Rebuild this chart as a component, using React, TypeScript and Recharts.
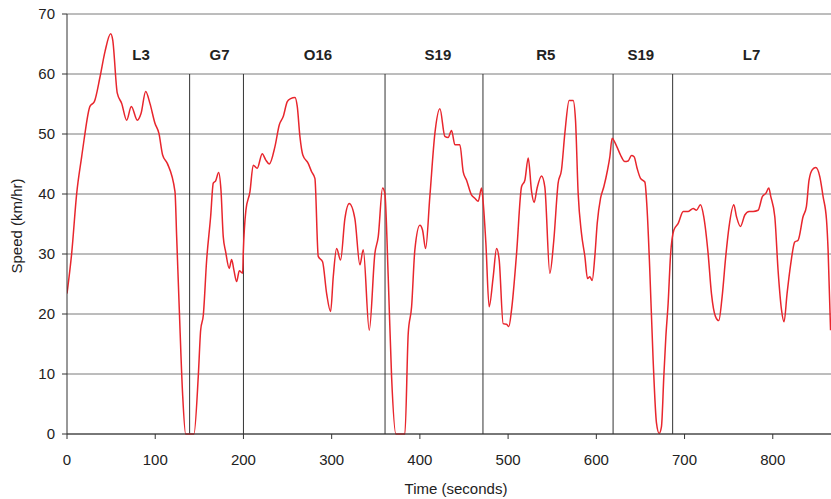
import React from "react";
import { LineChart, Line, XAxis, YAxis, CartesianGrid, ReferenceLine, ReferenceDot } from "recharts";

const timeSec = [0, 5.3, 11, 16.6, 19.3, 26, 31, 37.4, 43, 49.5, 51.8, 57, 62, 67.6, 72.9, 79.7, 83.9, 89.2, 94, 99.7, 104.2, 108.4, 113.7, 122.4, 124.3, 127.3, 131, 134.5, 143.9, 148.8, 151.5, 154.5, 158.3, 162.8, 165.8, 168.5, 171.9, 174.5, 177.1, 179.8, 183.9, 186.6, 189.2, 192.3, 195.3, 199.1, 199.8, 202.8, 207.4, 211.1, 215.6, 221.3, 225.2, 229.3, 235.7, 240.6, 245.1, 249.7, 253.5, 258.4, 261, 264, 267.3, 273.4, 277.3, 281, 284.8, 289.7, 294.3, 298.8, 301.8, 305.6, 310.1, 315, 319.9, 326.3, 332, 335.8, 342.6, 349, 352.8, 357.7, 360.3, 364.1, 367.9, 372.8, 383, 386.8, 390.6, 394.3, 400, 403, 406.5, 411.3, 417, 422.7, 428.3, 432, 435.9, 439.7, 445.3, 449.1, 452.9, 458.6, 462.3, 466.1, 469.9, 471.7, 474.8, 478.5, 483.1, 486.9, 489.9, 494.4, 498.2, 500.8, 503.9, 509.6, 515.2, 519, 522.8, 526.6, 529.5, 532.9, 537.9, 541.6, 547.3, 551.8, 556.7, 560.5, 564.3, 569.2, 573.7, 576.4, 579.4, 583.2, 587, 590, 592.6, 595.3, 598.3, 601, 604.8, 608.5, 612.7, 615.3, 617.9, 621, 624.7, 627.4, 632.3, 636, 639.9, 642.8, 646.2, 650.1, 655, 657.6, 660.6, 664.4, 668.2, 671.2, 673.8, 676.5, 678.8, 681.4, 684.1, 687.9, 692.8, 698.5, 704.2, 709.8, 713.5, 718, 721.8, 726.7, 730.5, 735, 738.8, 742.6, 746.7, 750.5, 755.8, 758.9, 763.4, 768.3, 773.2, 777.7, 783.4, 788.3, 792.1, 795.5, 797.7, 802.3, 806, 809.9, 812.8, 816.2, 820.4, 824.9, 828.7, 834.3, 838.1, 841.1, 845, 848.7, 853.3, 857, 860.9, 862.7, 865.5];

const speedKmh = [23.4, 30.1, 40.1, 46.2, 49, 54.6, 55.4, 59.5, 63.7, 66.7, 65.7, 56.8, 55.1, 52.3, 54.6, 52.3, 53.4, 57.1, 55.1, 51.8, 50.1, 46.5, 45.1, 40.4, 32.9, 20.7, 6.8, 0, 0, 9.6, 17.3, 19.8, 29, 36.2, 41.8, 42.2, 43.6, 40.7, 32.9, 30.4, 27.6, 29.1, 27.3, 25.4, 27.2, 26.8, 30.1, 37.3, 40.4, 44.8, 44.3, 46.7, 45.7, 45, 47.9, 51.5, 52.9, 55.4, 55.9, 56.1, 54.6, 49.6, 46.5, 45.1, 43.7, 42.6, 29.6, 28.7, 23.4, 20.4, 26.2, 30.9, 29, 35.9, 38.4, 35.9, 28.2, 30.7, 17.3, 30.1, 32.9, 41, 40.1, 26.2, 9.6, 0, 0, 16.8, 21.2, 30.7, 34.8, 34, 30.9, 39.6, 50.1, 54.2, 49.6, 49.4, 50.6, 48.2, 48.2, 43.7, 42.3, 39.8, 39.3, 38.8, 41, 38.7, 31.8, 21.2, 26.2, 30.9, 29, 18.4, 18.3, 17.9, 20.7, 30.1, 41.2, 42.3, 46, 40.4, 38.6, 41, 43, 41.2, 26.8, 32.3, 41.8, 44, 50.1, 55.6, 55.6, 52.3, 40.1, 33.4, 29.6, 25.9, 26.2, 25.6, 29.6, 35.1, 39.3, 41.2, 44, 46.2, 49.3, 48.6, 47.4, 46.5, 45.4, 45.5, 46.4, 46.2, 44.3, 42.6, 42, 37.3, 27.3, 12.3, 1.8, 0.1, 1.2, 9.6, 16.2, 21.8, 29.8, 34, 35.1, 37.1, 37.1, 37.6, 37.3, 38.2, 36.2, 30.1, 23.4, 19.6, 18.9, 22.9, 29.6, 34.6, 38.2, 36.2, 34.6, 36.5, 37.1, 37.1, 37.3, 39.6, 40.1, 41, 39.6, 36.2, 27.3, 20.7, 18.7, 23.4, 28.4, 32, 32.3, 36.2, 37.9, 42.3, 44.1, 44.4, 42.9, 39.6, 35.7, 30.7, 17.3];

const xTicks = [0, 100, 200, 300, 400, 500, 600, 700, 800];
const yTicks = [0, 10, 20, 30, 40, 50, 60, 70];

const segmentBoundaries = [139, 200, 360.5, 471.5, 619, 686.5];
const segmentNames = ["L3", "G7", "O16", "S19", "R5", "S19", "L7"];
const segmentLabelX = [83.9, 173, 284.4, 420.4, 542.8, 650.4, 776];
const segmentLabelY = 63.3;
const boundaryTop = 60;

const data = timeSec.map((t, i) => ({ t, v: speedKmh[i] }));

const FONT = "'Liberation Sans', Arial, sans-serif";

export default function App() {
  return (
    <div style={{ position: "absolute", left: 0, top: 0, background: "#fff" }}>
      <LineChart
        width={831}
        height={499}
        data={data}
        margin={{ top: 14, right: 0, left: 0, bottom: 0 }}
      >
        <CartesianGrid horizontal={true} vertical={false} stroke="#7a7a7a" strokeWidth={1} />
        <XAxis
          dataKey="t"
          type="number"
          domain={[0, 866]}
          ticks={xTicks}
          allowDataOverflow
          height={65}
          stroke="#333"
          tickLine={{ stroke: "#333" }}
          tickSize={5}
          tick={{ fill: "#222", fontSize: 15, fontFamily: FONT }}
          tickMargin={15}
          label={{ value: "Time (seconds)", position: "insideBottom", offset: 5, dx: 7, fill: "#222", fontSize: 15, fontFamily: FONT }}
        />
        <YAxis
          type="number"
          domain={[0, 70]}
          ticks={yTicks}
          width={67}
          stroke="#333"
          tickLine={{ stroke: "#333" }}
          tickSize={5}
          tickMargin={7}
          tick={{ fill: "#222", fontSize: 15, fontFamily: FONT }}
          label={{ value: "Speed (km/hr)", angle: -90, position: "insideLeft", offset: 17, dy: 2, style: { textAnchor: "middle" }, fill: "#222", fontSize: 15, fontFamily: FONT }}
        />
        {segmentBoundaries.map((b, i) => (
          <ReferenceLine
            key={"b" + i}
            segment={[{ x: b, y: 0 }, { x: b, y: boundaryTop }]}
            stroke="#333"
            strokeWidth={1}
          />
        ))}
        {segmentNames.map((n, i) => (
          <ReferenceDot
            key={"n" + i}
            x={segmentLabelX[i]}
            y={segmentLabelY}
            r={0}
            fill="none"
            stroke="none"
            label={{ value: n, position: "center", fill: "#222", fontSize: 15, fontWeight: "bold", fontFamily: FONT }}
          />
        ))}
        <Line
          type="monotone"
          dataKey="v"
          stroke="#e8262d"
          strokeWidth={1.5}
          dot={false}
          isAnimationActive={false}
        />
      </LineChart>
    </div>
  );
}
